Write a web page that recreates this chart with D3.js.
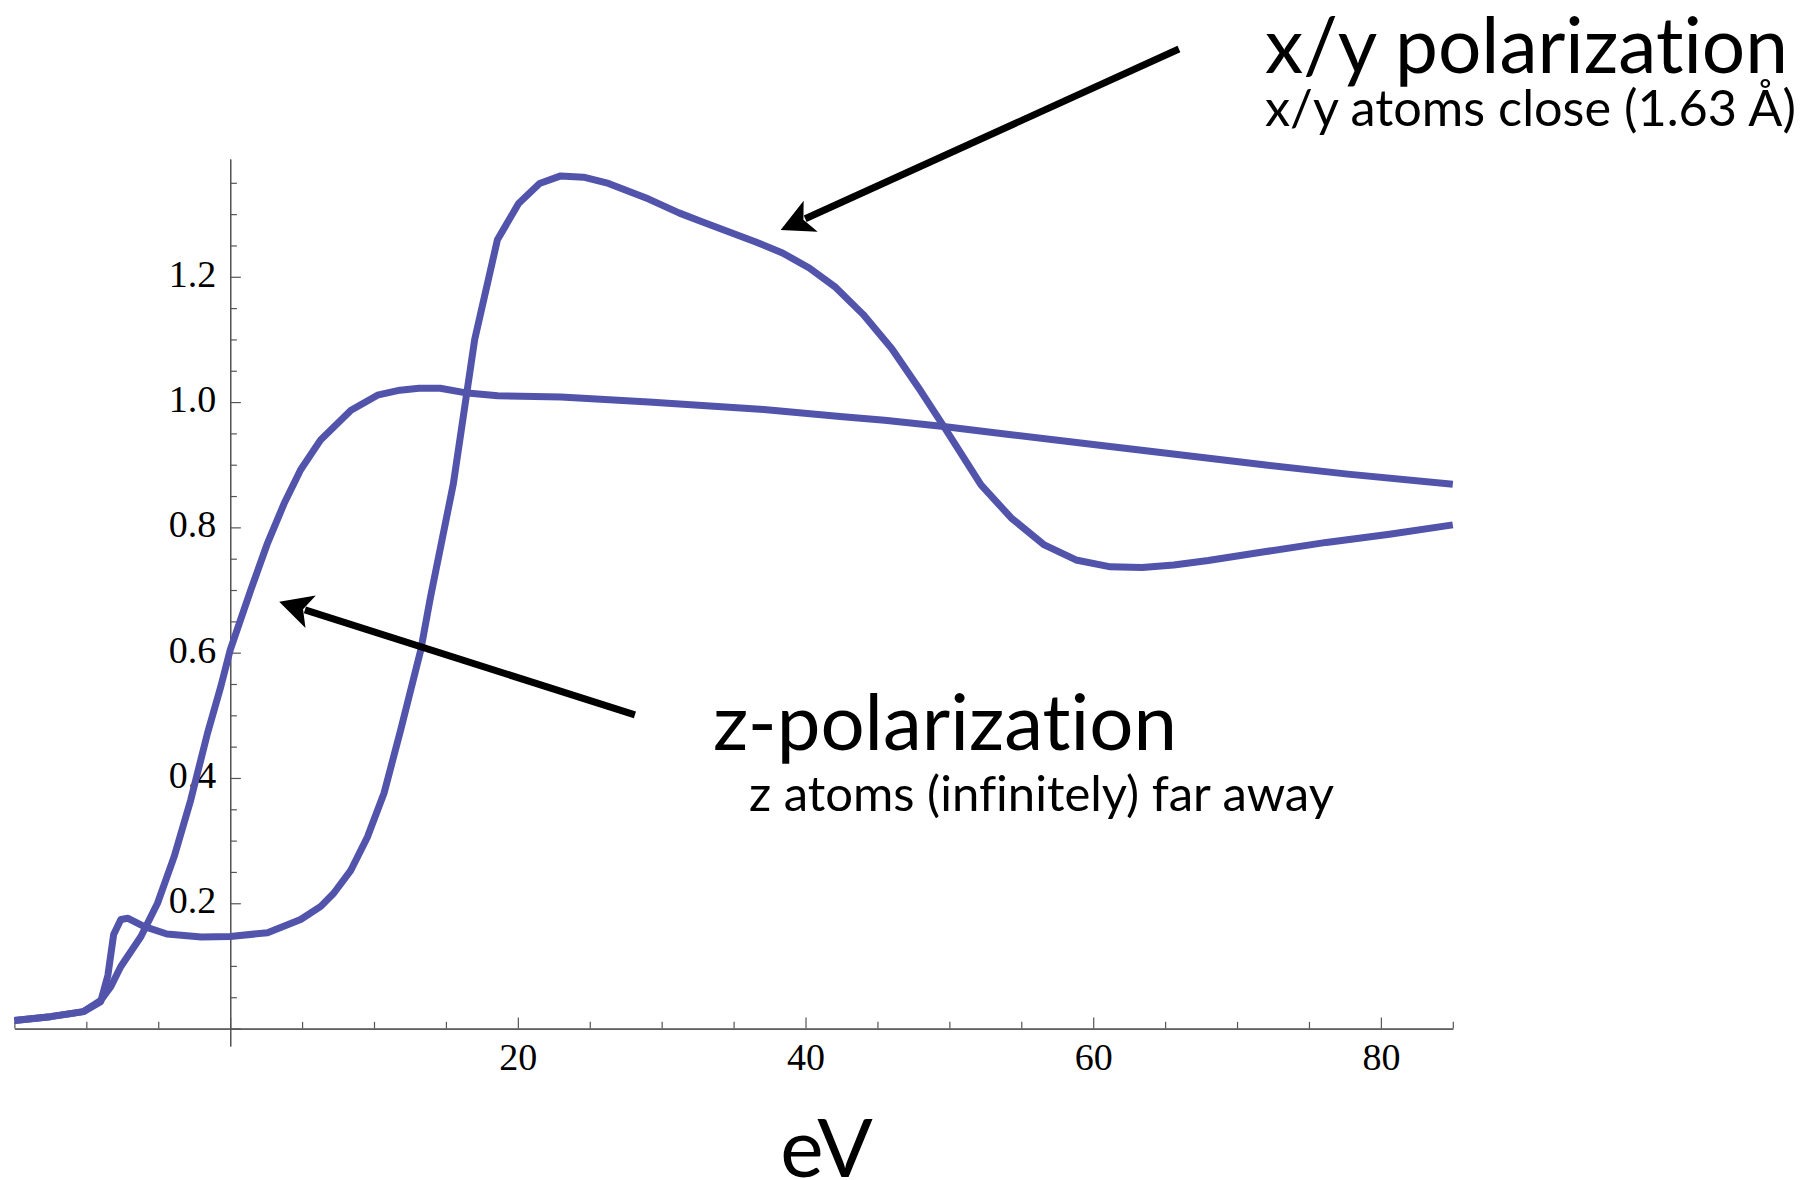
<!DOCTYPE html>
<html>
<head>
<meta charset="utf-8">
<script src="https://cdn.jsdelivr.net/npm/d3@7"></script>
<style>
  html, body { margin: 0; padding: 0; background: #ffffff; }
  svg { display: block; }
  text { font-variant-ligatures: none; font-feature-settings: "liga" 0, "clig" 0; }
</style>
</head>
<body>
<svg id="chart" width="1804" height="1180"></svg>
<script>
// Absorption vs photon energy (eV) for two polarizations
const energyXY = [-15, -12.5, -10.2, -9.0, -8.5, -8.1, -7.6, -7.1, -6.0, -4.4, -2.0, 0, 2.6, 4.9, 6.3, 7.2, 8.4, 9.55, 10.7, 11.86, 13.25, 13.93, 15.52, 17.0, 18.58, 20.05, 21.51, 22.98, 24.57, 26.3, 29.1, 31.2, 32.8, 36.5, 38.4, 40.26, 42.1, 44.0, 46.0, 48.0, 49.7, 52.2, 54.3, 56.6, 58.8, 61.2, 63.4, 65.6, 68.0, 71.9, 76.2, 80.6, 85];
const absXY = [0.013, 0.019, 0.027, 0.043, 0.085, 0.150, 0.174, 0.176, 0.163, 0.151, 0.146, 0.147, 0.153, 0.174, 0.195, 0.216, 0.253, 0.306, 0.376, 0.477, 0.604, 0.689, 0.870, 1.100, 1.259, 1.317, 1.349, 1.361, 1.359, 1.349, 1.324, 1.302, 1.288, 1.256, 1.238, 1.214, 1.183, 1.140, 1.085, 1.018, 0.958, 0.868, 0.815, 0.772, 0.748, 0.737, 0.736, 0.740, 0.747, 0.761, 0.776, 0.789, 0.804];

const energyZ = [-15, -12.5, -10.2, -9.0, -8.3, -7.6, -6.2, -5.05, -3.9, -2.74, -1.58, -0.65, 0, 1.43, 2.6, 3.75, 4.9, 6.3, 8.4, 10.24, 11.8, 13.13, 14.6, 16.3, 18.6, 23.0, 29.1, 37.1, 42.4, 45.5, 49.6, 54.3, 60.15, 66.0, 71.85, 77.7, 85];
const absZ = [0.013, 0.019, 0.027, 0.045, 0.067, 0.099, 0.147, 0.200, 0.274, 0.365, 0.471, 0.546, 0.604, 0.700, 0.775, 0.838, 0.892, 0.940, 0.987, 1.011, 1.019, 1.022, 1.022, 1.015, 1.010, 1.008, 1.000, 0.988, 0.977, 0.971, 0.961, 0.948, 0.932, 0.916, 0.900, 0.885, 0.869];

const xMajorTicks = [0, 20, 40, 60, 80];
const xMinorTicks = [-15, -10, -5, 5, 10, 15, 25, 30, 35, 45, 50, 55, 65, 70, 75, 85];
const yMajorTicks = [0, 0.2, 0.4, 0.6, 0.8, 1.0, 1.2];
const yMinorTicks = [0.05, 0.1, 0.15, 0.25, 0.3, 0.35, 0.45, 0.5, 0.55, 0.65, 0.7, 0.75, 0.85, 0.9, 0.95, 1.05, 1.1, 1.15, 1.25, 1.3, 1.35];

const xAxisTitle = "eV";
const notes = [
  { text: "x/y polarization", x: 1265, y: 73, width: 523 },
  { text: "x/y atoms close (1.63 Å)", x: 1265, y: 126, width: 531 },
  { text: "z-polarization", x: 713, y: 750, width: 464 },
  { text: "z atoms (infinitely) far away", x: 749, y: 811, width: 585 }
];
// Arrows in data coordinates: [energy, value] for tail and tip
const arrows = [
  { from: [65.96, 1.5636], to: [38.27, 1.2747] },
  { from: [28.14, 0.5006], to: [3.41, 0.6814] }
];

const svg = d3.select("#chart");
const curveColor = "#5154aa";
const axisColor = "#555555";

const x = d3.scaleLinear().domain([-15, 85]).range([14.4, 1452.8]);
const y = d3.scaleLinear().domain([-0.028, 1.388]).range([1046.1, 159.0]);

// ---- axes ----
function styleAxis(g) {
  g.select(".domain").attr("stroke", axisColor).attr("stroke-width", 1.3);
  g.selectAll(".tick line").attr("stroke", axisColor).attr("stroke-width", 1.2);
  g.selectAll(".tick text")
    .attr("fill", "#000")
    .style("font-family", "'Liberation Serif', 'Times New Roman', serif")
    .style("font-size", "38px");
}

const xAxisG = svg.append("g").attr("transform", `translate(0,${y(0)})`);
xAxisG.append("g")
  .call(d3.axisBottom(x).tickValues(xMinorTicks).tickSizeInner(-6.7).tickSizeOuter(0).tickFormat(""))
  .call(styleAxis);
xAxisG.append("g")
  .call(d3.axisBottom(x).tickValues(xMajorTicks).tickSizeInner(-11).tickSizeOuter(0).tickPadding(14.5)
    .tickFormat(d => d === 0 ? "" : d3.format("d")(d)))
  .call(styleAxis);

const yAxisG = svg.append("g").attr("transform", `translate(${x(0)},0)`);
yAxisG.append("g")
  .call(d3.axisLeft(y).tickValues(yMinorTicks).tickSizeInner(-6.7).tickSizeOuter(0).tickFormat(""))
  .call(styleAxis);
yAxisG.append("g")
  .call(d3.axisLeft(y).tickValues(yMajorTicks).tickSizeInner(-10.7).tickSizeOuter(0).tickPadding(14)
    .tickFormat(d => d === 0 ? "" : d3.format(".1f")(d)))
  .call(styleAxis);
yAxisG.selectAll(".tick text").attr("dy", "0.25em");

// ---- curves ----
const line = d3.line().x(d => x(d[0])).y(d => y(d[1]));
const seriesXY = energyXY.map((e, i) => [e, absXY[i]]);
const seriesZ = energyZ.map((e, i) => [e, absZ[i]]);

svg.append("g").selectAll("path")
  .data([seriesZ, seriesXY])
  .join("path")
  .attr("d", line)
  .attr("fill", "none")
  .attr("stroke", curveColor)
  .attr("stroke-width", 7)
  .attr("stroke-linejoin", "round")
  .attr("stroke-linecap", "butt");

// ---- axis title ----
svg.append("text")
  .attr("x", 826.5).attr("y", 1177)
  .attr("text-anchor", "middle")
  .style("font-family", "Lato, 'Open Sans', sans-serif")
  .style("font-size", "82px")
  .attr("fill", "#000")
  .text(xAxisTitle);

// ---- annotation text, sized to span its given width ----
notes.forEach(n => {
  const t = svg.append("text")
    .attr("x", n.x).attr("y", n.y)
    .style("font-family", "Lato, 'Open Sans', sans-serif")
    .style("font-size", "100px")
    .attr("fill", "#000")
    .text(n.text);
  const w = t.node().getComputedTextLength();
  if (w > 0) t.style("font-size", (100 * n.width / w) + "px");
});

// ---- arrows ----
const headLen = 33, headHalf = 17, notchLen = 25;
arrows.forEach(a => {
  const x0 = x(a.from[0]), y0 = y(a.from[1]);
  const x1 = x(a.to[0]), y1 = y(a.to[1]);
  const dx = x1 - x0, dy = y1 - y0;
  const len = Math.hypot(dx, dy);
  const ux = dx / len, uy = dy / len;   // direction toward tip
  const nx = -uy, ny = ux;              // normal
  const g = svg.append("g");
  g.append("line")
    .attr("x1", x0).attr("y1", y0)
    .attr("x2", x1 - ux * (notchLen + 2)).attr("y2", y1 - uy * (notchLen + 2))
    .attr("stroke", "#000").attr("stroke-width", 7);
  const bx = x1 - ux * headLen, by = y1 - uy * headLen;
  const pts = [
    [x1, y1],
    [bx + nx * headHalf, by + ny * headHalf],
    [x1 - ux * notchLen, y1 - uy * notchLen],
    [bx - nx * headHalf, by - ny * headHalf]
  ];
  g.append("polygon")
    .attr("points", pts.map(p => p.join(",")).join(" "))
    .attr("fill", "#000");
});
</script>
</body>
</html>
